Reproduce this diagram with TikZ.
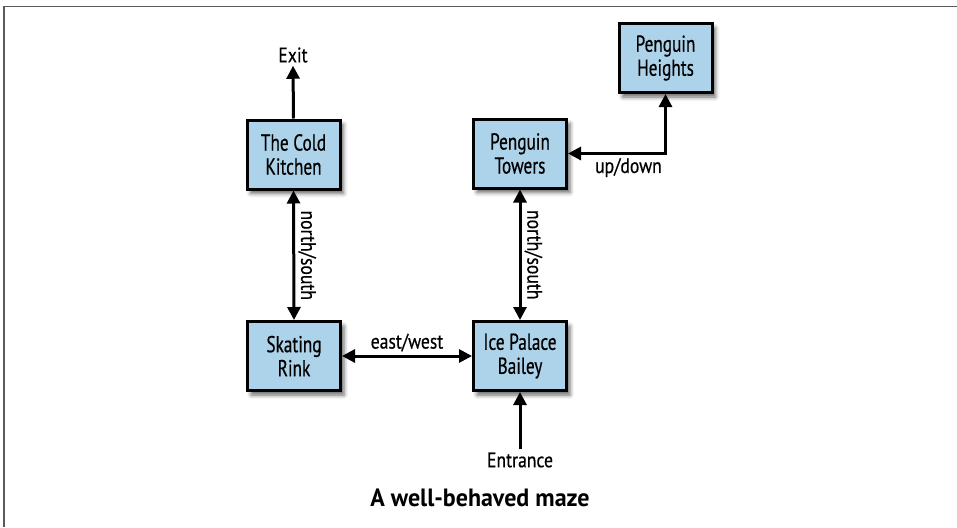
\documentclass[tikz,border=0pt]{standalone}
\usepackage{fontspec}
\setmainfont[FakeStretch=0.75,FakeBold=0.5]{PT Sans}
\newfontfamily\lblfont[FakeStretch=0.84,FakeBold=0.5]{PT Sans}
\newfontfamily\titlefont[FakeStretch=0.96]{PT Sans}
\usetikzlibrary{arrows.meta,shadows.blur}
\definecolor{boxblue}{RGB}{173,211,234}
\definecolor{framegray}{RGB}{90,90,90}
\tikzset{
 room/.style={draw=black, line width=3pt, fill=boxblue, minimum width=93pt, minimum height=69pt, inner sep=0pt, align=center, font=\fontsize{23}{24}\selectfont, blur shadow={shadow xshift=3.5pt, shadow yshift=-4.5pt, shadow blur radius=4pt, shadow opacity=60}},
 link/.style={line width=3pt, -{Triangle[length=13pt,width=13pt]}},
 dlink/.style={line width=3pt, {Triangle[length=13pt,width=13pt]}-{Triangle[length=13pt,width=13pt]}},
 lbl/.style={font=\lblfont\fontsize{21}{23}\selectfont, inner sep=3pt},
 frameline/.style={draw=framegray, line width=1.5pt},
}
\begin{document}
\begin{tikzpicture}[x=1pt,y=-1pt]
\useasboundingbox (0,0) rectangle (957,527);
\draw[frameline] (4,527) -- (4,6.5) -- (957,6.5);

\node[room] (ck) at (293.5,154.5) {The Cold\\Kitchen};
\node[room] (pt) at (520,153.5) {Penguin\\Towers};
\node[room] (ph) at (665.5,58) {Penguin\\Heights};
\node[room] (sr) at (294,356) {Skating\\Rink};
\node[room] (ipb) at (520,356) {Ice Palace\\Bailey};

\node[lbl] (exit) at (293,55) {Exit};
\node[lbl] (entr) at (520,460) {Entrance};
\node[font=\titlefont\bfseries\fontsize{25}{28}\selectfont] (title) at (480,498) {A well-behaved maze};

\draw[link] (ck.north) -- (exit.south);
\draw[link] (entr.north) -- (ipb.south);
\draw[dlink] (ck.south) -- node[lbl, midway, rotate=-90, anchor=south] {north/south} (sr.north);
\draw[dlink] (pt.south) -- node[lbl, midway, rotate=-90, anchor=south] {north/south} (ipb.north);
\draw[dlink] (sr.east) -- node[lbl, midway, above] {east/west} (ipb.west);
\draw[dlink] (ph.south) |- node[lbl, pos=0.69, below] {up/down} (pt.east);
\end{tikzpicture}
\end{document}
